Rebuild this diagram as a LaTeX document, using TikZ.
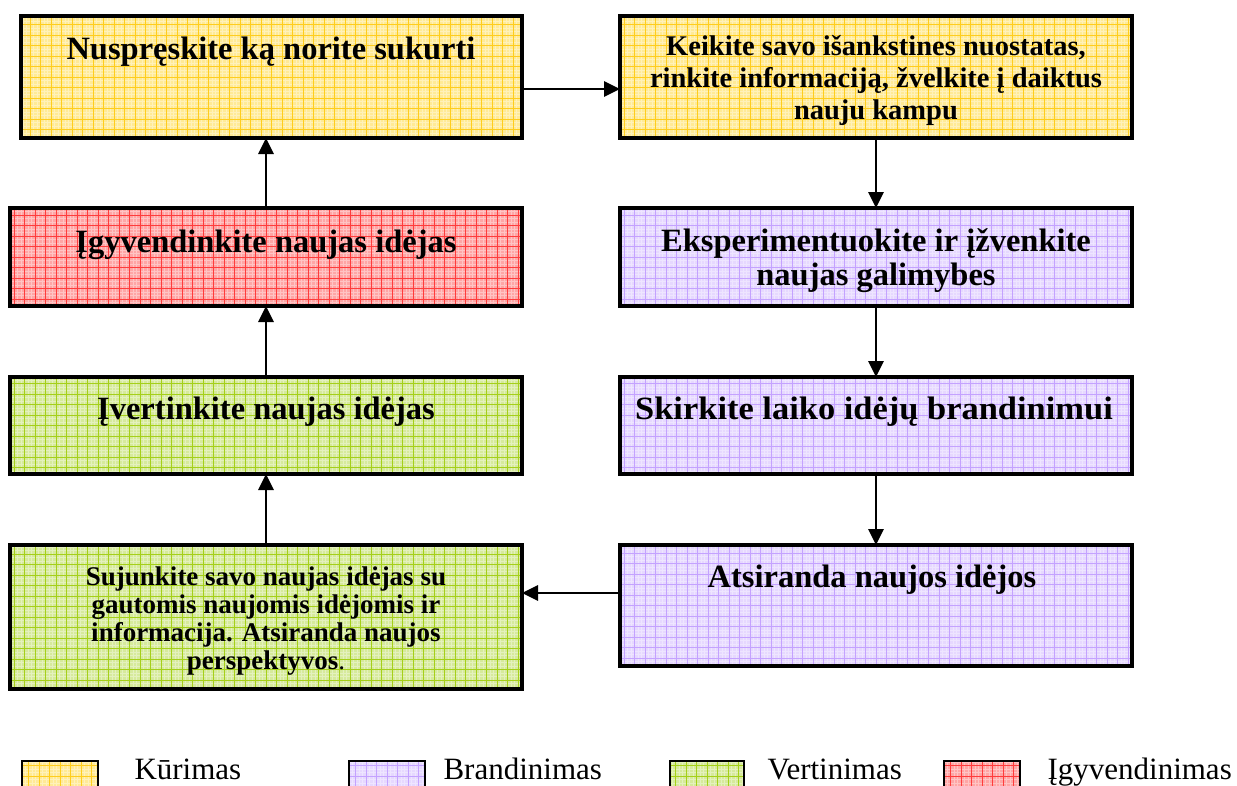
\documentclass[tikz,border=0pt]{standalone}
\usepackage{fontspec}
\setmainfont{Liberation Serif}
\usetikzlibrary{arrows.meta,calc}
\definecolor{yfill}{RGB}{255,234,150}
\definecolor{ygrid}{RGB}{255,205,30}
\definecolor{rfill}{RGB}{255,165,165}
\definecolor{rgrid}{RGB}{255,60,60}
\definecolor{gfill}{RGB}{214,234,155}
\definecolor{ggrid}{RGB}{165,208,25}
\definecolor{pfill}{RGB}{230,216,255}
\definecolor{pgrid}{RGB}{196,162,255}
\tikzset{
  box/.style 2 args={draw=black, line width=3.4pt, fill=#1, inner sep=0pt, outer sep=0pt,
    path picture={
      \draw[white, opacity=0.35, line width=0.6pt, step=3.5pt]
        (path picture bounding box.south west) grid (path picture bounding box.north east);
      \draw[#2, line width=0.9pt, step=10.5pt]
        (path picture bounding box.south west) grid (path picture bounding box.north east);
    }},
  ttl/.style={align=center, font=\bfseries\fontsize{32.5}{34}\selectfont},
  sml/.style={align=center, font=\bfseries\fontsize{28.5}{32}\selectfont},
  leg/.style={anchor=base west, font=\fontsize{31}{34}\selectfont},
  arr/.style={line width=2.8pt, -{Triangle[length=16pt,width=15pt]}},
}
\begin{document}
\begin{tikzpicture}[x=1pt,y=-1pt]
\clip (0,0) rectangle (1237,785);
\fill[white] (0,0) rectangle (1237,785);
% boxes
\node[box={yfill}{ygrid}, minimum width=501pt, minimum height=122pt, anchor=north west] (L1) at (21,16) {};
\node[box={yfill}{ygrid}, minimum width=512pt, minimum height=122pt, anchor=north west] (R1) at (620,16) {};
\node[box={rfill}{rgrid}, minimum width=512pt, minimum height=98pt, anchor=north west] (L2) at (10,208) {};
\node[box={pfill}{pgrid}, minimum width=512pt, minimum height=98pt, anchor=north west] (R2) at (620,208) {};
\node[box={gfill}{ggrid}, minimum width=512pt, minimum height=97pt, anchor=north west] (L3) at (10,377) {};
\node[box={pfill}{pgrid}, minimum width=512pt, minimum height=97pt, anchor=north west] (R3) at (620,377) {};
\node[box={gfill}{ggrid}, minimum width=512pt, minimum height=144pt, anchor=north west] (L4) at (10,545) {};
\node[box={pfill}{pgrid}, minimum width=512pt, minimum height=121pt, anchor=north west] (R4) at (620,545) {};
% texts
\node[ttl] (tL1) at (271,52) {Nuspręskite ką norite sukurti};
\node[sml] (tR1) at (876,80) {Keikite savo išankstines nuostatas,\\rinkite informaciją, žvelkite į daiktus\\nauju kampu};
\node[ttl] (tL2) at (266,245) {Įgyvendinkite naujas idėjas};
\node[ttl] (tR2) at (876,261) {Eksperimentuokite ir įžvenkite\\naujas galimybes};
\node[ttl] (tL3) at (266,412) {Įvertinkite naujas idėjas};
\node[ttl, xscale=1.06] (tR3) at (874,412) {Skirkite laiko idėjų brandinimui};
\node[sml, font=\bfseries\fontsize{27}{28}\selectfont] (tL4) at (266,621) {Sujunkite savo naujas idėjas su\\gautomis naujomis idėjomis ir\\informacija. Atsiranda naujos\\perspektyvos{\mdseries.}};
\node[ttl] (tR4) at (872,580) {Atsiranda naujos idėjos};
% arrows
\draw[arr] ($(L1.east)+(0,12)$) -- ($(R1.west)+(0,12)$);
\draw[arr] (R1.south) -- (R2.north);
\draw[arr] (R2.south) -- (R3.north);
\draw[arr] (R3.south) -- (R4.north);
\draw[arr] ($(R4.west)+(0,-12.5)$) -- ($(L4.east)+(0,-24)$);
\draw[arr] (L4.north) -- (L3.south);
\draw[arr] (L3.north) -- (L2.south);
\draw[arr] (L2.north) -- (L2.north |- L1.south);
% legend
\node[box={yfill}{ygrid}, line width=2pt, minimum width=76pt, minimum height=30pt, anchor=north west] (k1) at (22,761) {};
\node[leg] (k1t) at (131,779) {Kūrimas};
\node[box={pfill}{pgrid}, line width=2pt, minimum width=76pt, minimum height=30pt, anchor=north west] (k2) at (349,761) {};
\node[leg] (k2t) at (440,779) {Brandinimas};
\node[box={gfill}{ggrid}, line width=2pt, minimum width=74pt, minimum height=30pt, anchor=north west] (k3) at (670,761) {};
\node[leg] (k3t) at (764,779) {Vertinimas};
\node[box={rfill}{rgrid}, line width=2pt, minimum width=76pt, minimum height=30pt, anchor=north west] (k4) at (944,761) {};
\node[leg] (k4t) at (1044,779) {Įgyvendinimas};
\end{tikzpicture}
\end{document}
